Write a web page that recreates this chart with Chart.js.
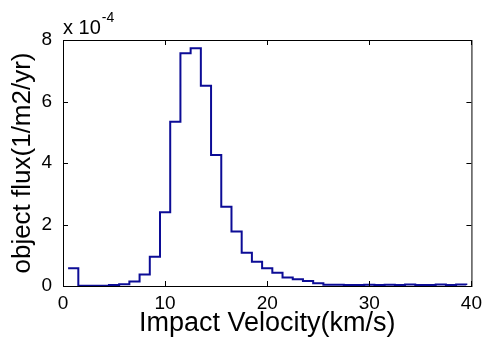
<!DOCTYPE html>
<html>
<head>
<meta charset="utf-8">
<script src="https://cdn.jsdelivr.net/npm/chart.js@4/dist/chart.umd.min.js"></script>
<style>
  html, body { margin: 0; padding: 0; background: #fff; }
  canvas { display: block; }
</style>
</head>
<body>
<canvas id="myChart" width="488" height="347"></canvas>
<script>
// bin centres (km/s) and flux per bin, in units of 1e-4 1/m2/yr
const velocity = [0.5, 1.5, 2.5, 3.5, 4.5, 5.5, 6.5, 7.5, 8.5, 9.5,
    10.5, 11.5, 12.5, 13.5, 14.5, 15.5, 16.5, 17.5, 18.5, 19.5,
    20.5, 21.5, 22.5, 23.5, 24.5, 25.5, 26.5, 27.5, 28.5, 29.5,
    30.5, 31.5, 32.5, 33.5, 34.5, 35.5, 36.5, 37.5, 38.5, 39.5];
const flux = [0.58, 0.01, 0.01, 0.01, 0.03, 0.06, 0.15, 0.37, 0.95, 2.40,
    5.34, 7.57, 7.73, 6.51, 4.26, 2.58, 1.77, 1.08, 0.79, 0.58,
    0.43, 0.28, 0.22, 0.16, 0.09, 0.04, 0.04, 0.03, 0.03, 0.04,
    0.03, 0.04, 0.03, 0.05, 0.03, 0.03, 0.05, 0.03, 0.05, 0.03];

const xTicks = [0, 10, 20, 30, 40];
const yTicks = [0, 2, 4, 6, 8];
const xTitle = 'Impact Velocity(km/s)';
const yTitle = 'object flux(1/m2/yr)';
const exponentBase = 'x 10';
const exponentPower = '-4';

const FONT = '"Liberation Sans", Arial, sans-serif';

// matlab style box with inward ticks and the x 10^-4 multiplier
const matlabFrame = {
    id: 'matlabFrame',
    afterDraw(chart) {
        const { ctx, chartArea: a, scales: { x, y } } = chart;
        ctx.save();
        ctx.strokeStyle = '#000';
        ctx.lineWidth = 1;
        ctx.strokeRect(a.left + 0.5, a.top + 0.5, a.right - a.left, a.bottom - a.top);
        const len = 5;
        ctx.beginPath();
        xTicks.forEach(v => {
            const px = Math.round(x.getPixelForValue(v)) + 0.5;
            ctx.moveTo(px, a.bottom); ctx.lineTo(px, a.bottom - len);
            ctx.moveTo(px, a.top); ctx.lineTo(px, a.top + len);
        });
        yTicks.forEach(v => {
            const py = Math.round(y.getPixelForValue(v)) + 0.5;
            ctx.moveTo(a.left, py); ctx.lineTo(a.left + len, py);
            ctx.moveTo(a.right, py); ctx.lineTo(a.right - len, py);
        });
        ctx.stroke();

        ctx.fillStyle = '#000';
        ctx.textBaseline = 'alphabetic';
        ctx.font = `20px ${FONT}`;
        ctx.fillText(exponentBase, a.left, 34);
        const w = ctx.measureText(exponentBase).width;
        ctx.font = `14px ${FONT}`;
        ctx.fillText(exponentPower, a.left + w + 1, 22);
        ctx.restore();
    }
};

const ctx = document.getElementById('myChart').getContext('2d');

new Chart(ctx, {
    type: 'line',
    data: {
        datasets: [{
            data: velocity.map((v, i) => ({ x: v, y: flux[i] })),
            stepped: true,
            borderColor: '#0c0c96',
            borderWidth: 2,
            pointRadius: 0,
            fill: false,
        }]
    },
    options: {
        responsive: false,
        animation: false,
        layout: { padding: { top: 40, right: 12, left: 0, bottom: 0 } },
        plugins: {
            legend: { display: false },
            tooltip: { enabled: false },
        },
        scales: {
            x: {
                type: 'linear',
                min: 0,
                max: 40,
                afterFit: scale => { scale.height = 61; },
                afterBuildTicks: scale => { scale.ticks = xTicks.map(value => ({ value })); },
                grid: { display: false, drawTicks: false },
                border: { display: false },
                ticks: { color: '#000', padding: 6, font: { family: FONT, size: 19 } },
                title: {
                    display: true,
                    text: xTitle,
                    color: '#000',
                    padding: { top: 0, bottom: 7 },
                    font: { family: FONT, size: 27 },
                },
            },
            y: {
                min: 0,
                max: 8,
                afterFit: scale => { scale.width = 63; },
                afterBuildTicks: scale => { scale.ticks = yTicks.map(value => ({ value })); },
                grid: { display: false, drawTicks: false },
                border: { display: false },
                ticks: { color: '#000', padding: 11, font: { family: FONT, size: 19 } },
                title: {
                    display: true,
                    text: yTitle,
                    color: '#000',
                    padding: { top: 7, bottom: 0 },
                    font: { family: FONT, size: 26 },
                },
            },
        },
    },
    plugins: [matlabFrame],
});
</script>
</body>
</html>
